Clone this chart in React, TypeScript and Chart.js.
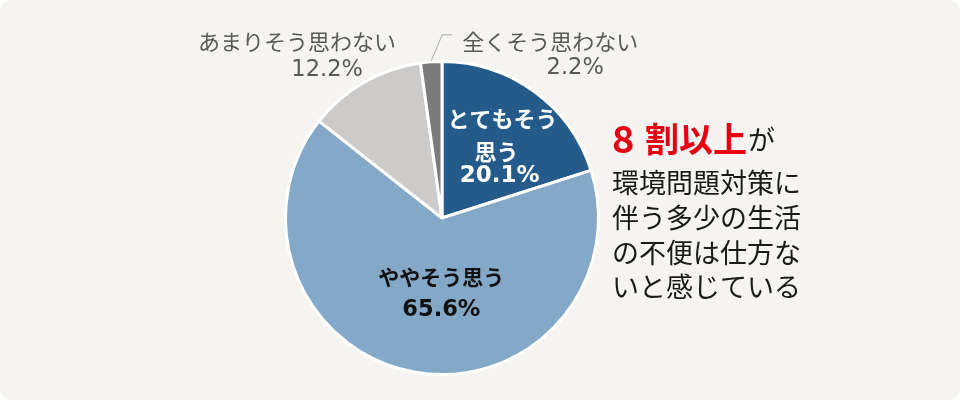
import React, { useEffect, useRef } from "react";
import { Chart, registerables } from "chart.js";

Chart.register(...registerables);

const categories = ["とてもそう思う", "ややそう思う", "あまりそう思わない", "全くそう思わない"];
const values = [20.1, 65.6, 12.2, 2.2];
const valueLabels = ["20.1%", "65.6%", "12.2%", "2.2%"];
const sliceLabelLines = [["とてもそう", "思う"], ["ややそう思う"], ["あまりそう思わない"], ["全くそう思わない"]];
const colors = ["#255b8a", "#84a8c7", "#cdcbc9", "#7b7b7b"];
const headlineRed = ["8", "割以上"];
const headlineTail = "が";
const bodyLines = ["環境問題対策に", "伴う多少の生活", "の不便は仕方な", "いと感じている"];

const FONT = '"Noto Sans CJK JP", "Noto Sans", sans-serif';
const NUMFONT = '"DejaVu Sans", "Noto Sans CJK JP", sans-serif';

const labelPlugin = {
  id: "sliceLabels",
  afterDatasetsDraw(chart: any) {
    const ctx = chart.ctx;
    const meta = chart.getDatasetMeta(0);
    const pt = (i: number, rFrac: number) => {
      const a = meta.data[i].getProps(["startAngle", "endAngle", "x", "y", "outerRadius"], true);
      const mid = (a.startAngle + a.endAngle) / 2;
      const r = a.outerRadius * rFrac;
      return { x: a.x + Math.cos(mid) * r, y: a.y + Math.sin(mid) * r };
    };
    ctx.save();
    ctx.textAlign = "center";
    ctx.textBaseline = "middle";

    // inside label 0
    {
      const p = pt(0, 0.58);
      ctx.fillStyle = "#ffffff";
      ctx.font = `bold 22px ${FONT}`;
      ctx.fillText(sliceLabelLines[0][0], p.x + 7, p.y - 26);
      ctx.fillText(sliceLabelLines[0][1], p.x + 1, p.y + 7);
      ctx.font = `bold 23px ${NUMFONT}`;
      ctx.fillText(valueLabels[0], p.x + 4, p.y + 31);
    }
    // inside label 1
    {
      const p = pt(1, 0.49);
      ctx.fillStyle = "#111111";
      ctx.font = `bold 21px ${FONT}`;
      ctx.fillText(sliceLabelLines[1][0], p.x + 13, p.y - 16);
      ctx.font = `bold 22.5px ${NUMFONT}`;
      ctx.fillText(valueLabels[1], p.x + 13, p.y + 17);
    }
    // outside label 2
    {
      const p = pt(2, 1);
      ctx.fillStyle = "#595959";
      ctx.font = `22px ${FONT}`;
      ctx.fillText(sliceLabelLines[2][0], p.x - 67, p.y - 41);
      ctx.font = `22.5px ${NUMFONT}`;
      ctx.fillText(valueLabels[2], p.x - 37, p.y - 12);
    }
    // outside label 3 with leader
    {
      const p = pt(3, 1);
      ctx.strokeStyle = "#a6a6a6";
      ctx.lineWidth = 1;
      ctx.beginPath();
      ctx.moveTo(p.x, p.y - 1);
      ctx.lineTo(p.x + 11, p.y - 27);
      ctx.lineTo(p.x + 21, p.y - 27);
      ctx.stroke();
      ctx.fillStyle = "#595959";
      ctx.font = `22px ${FONT}`;
      ctx.fillText(sliceLabelLines[3][0], p.x + 119, p.y - 20);
      ctx.font = `22.5px ${NUMFONT}`;
      ctx.fillText(valueLabels[3], p.x + 144, p.y + 6);
    }

    // right-hand message
    ctx.textAlign = "left";
    ctx.fillStyle = "#e60012";
    ctx.font = `bold 38px ${FONT}`;
    ctx.fillText(headlineRed[0], 612, 139);
    ctx.font = `bold 34px ${FONT}`;
    ctx.fillText(headlineRed[1], 645, 139);
    const w = ctx.measureText(headlineRed[1]).width;
    ctx.fillStyle = "#1a1a1a";
    ctx.font = `27px ${FONT}`;
    ctx.fillText(headlineTail, 645 + w + 1, 140);
    bodyLines.forEach((t, i) => {
      ctx.fillText(t, 612, 183 + i * 34.7);
    });
    ctx.restore();
  },
};

export default function App() {
  const ref = useRef<HTMLCanvasElement>(null);
  useEffect(() => {
    if (!ref.current) return;
    const chart = new Chart(ref.current, {
      type: "pie",
      data: {
        labels: categories,
        datasets: [
          {
            data: values,
            backgroundColor: colors,
            borderColor: "#ffffff",
            borderWidth: 3,
          },
        ],
      },
      options: {
        responsive: false,
        maintainAspectRatio: false,
        animation: false,
        layout: { padding: { left: 284, right: 360, top: 60, bottom: 24 } },
        plugins: { legend: { display: false }, tooltip: { enabled: false } },
      },
      plugins: [labelPlugin],
    });
    return () => chart.destroy();
  }, []);
  return (
    <div style={{ position: "fixed", left: 0, top: 0, width: 960, height: 400, background: "#ffffff" }}>
      <div
        style={{
          position: "absolute",
          left: 0,
          top: 0,
          width: 960,
          height: 400,
          background: "#f5f4f1",
          borderRadius: 12,
        }}
      />
      <canvas ref={ref} width={960} height={400} style={{ position: "absolute", left: 0, top: 0 }} />
    </div>
  );
}
